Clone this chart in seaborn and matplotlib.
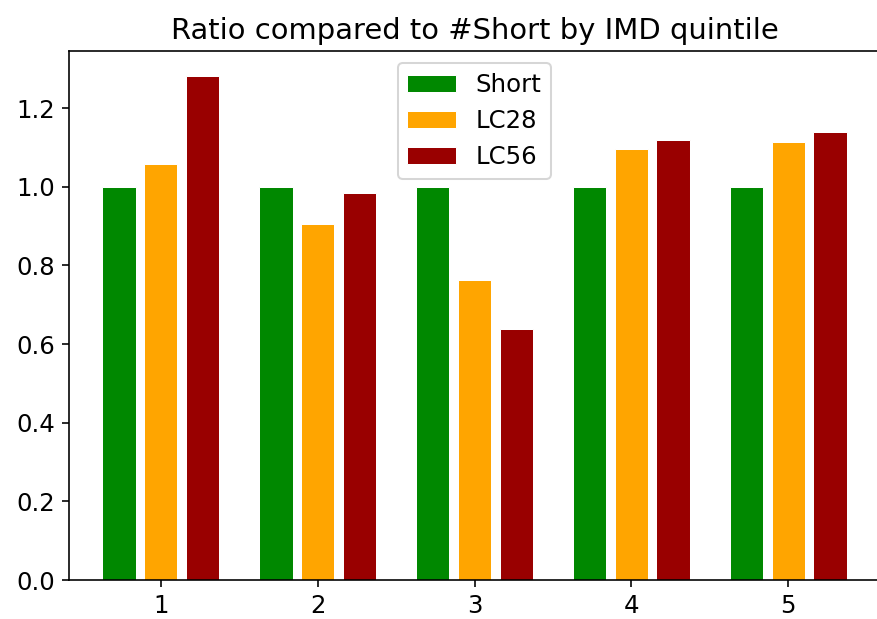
import pandas as pd
import numpy as np
import matplotlib
matplotlib.use('Agg')
import matplotlib.pyplot as plt
import seaborn as sns

# IMD quintiles and ratio of each series compared to #Short
quintiles = ['1', '2', '3', '4', '5']
short_ratio = [1.0, 1.0, 1.0, 1.0, 1.0]
lc28_ratio = [1.058, 0.904, 0.762, 1.095, 1.114]
lc56_ratio = [1.281, 0.984, 0.638, 1.120, 1.138]
series_names = ['Short', 'LC28', 'LC56']
series_colors = ['#008800', 'orange', '#990000']

# long format table for seaborn
df = pd.DataFrame({
    'quintile': quintiles * 3,
    'series': np.repeat(series_names, len(quintiles)),
    'ratio': short_ratio + lc28_ratio + lc56_ratio,
})

dpi = 146
fig = plt.figure(figsize=(877 / dpi, 619 / dpi), dpi=dpi)
# right spine sits just past the image edge, like the cropped original
ax = fig.add_axes([69 / 877, 39 / 619, 811 / 877, 529 / 619])

sns.barplot(data=df, x='quintile', y='ratio', hue='series', order=quintiles,
            hue_order=series_names, palette=series_colors, saturation=1,
            gap=0.2, edgecolor='white', linewidth=0.5, ax=ax)

ax.set_xlim(-0.585, 4.585)
ax.set_ylim(0, max(lc56_ratio) * 1.05)
ax.set_title('Ratio compared to #Short by IMD quintile', fontsize=14.3)
ax.set_xlabel('')
ax.set_ylabel('')
ax.tick_params(labelsize=12)
ax.legend(loc='upper center', fontsize=12)

fig.savefig('out.png', dpi=dpi)
